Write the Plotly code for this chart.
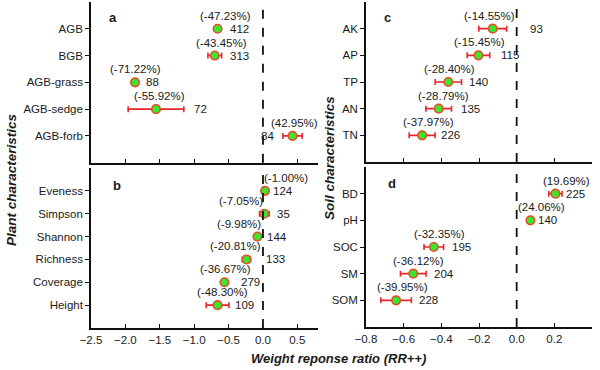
import plotly.graph_objects as go

# ---------------- data ----------------
a_cats = ["AGB", "BGB", "AGB-grass", "AGB-sedge", "AGB-forb"]
a_vals = [-0.66, -0.70, -1.86, -1.555, 0.43]
a_errs = [0.015, 0.10, 0.015, 0.405, 0.14]
a_pct = ["(-47.23%)", "(-43.45%)", "(-71.22%)", "(-55.92%)", "(42.95%)"]
a_n = [412, 313, 88, 72, 84]

b_cats = ["Eveness", "Simpson", "Shannon", "Richness", "Coverage", "Height"]
b_vals = [0.03, 0.02, -0.08, -0.24, -0.56, -0.66]
b_errs = [0.02, 0.07, 0.02, 0.06, 0.02, 0.165]
b_pct = ["(-1.00%)", "(-7.05%)", "(-9.98%)", "(-20.81%)", "(-36.67%)", "(-48.30%)"]
b_n = [124, 35, 144, 133, 279, 109]

c_cats = ["AK", "AP", "TP", "AN", "TN"]
c_vals = [-0.127, -0.203, -0.363, -0.414, -0.502]
c_errs = [0.074, 0.06, 0.07, 0.068, 0.069]
c_pct = ["(-14.55%)", "(-15.45%)", "(-28.40%)", "(-28.79%)", "(-37.97%)"]
c_n = [93, 115, 140, 135, 226]

d_cats = ["BD", "pH", "SOC", "SM", "SOM"]
d_vals = [0.206, 0.073, -0.44, -0.549, -0.64]
d_errs = [0.035, 0.01, 0.052, 0.068, 0.081]
d_pct = ["(19.69%)", "(24.06%)", "(-32.35%)", "(-36.12%)", "(-39.95%)"]
d_n = [225, 140, 195, 204, 228]

# ---------------- styles / label offsets (px) ----------------
a_pct_dx = [8, 7, 0, 3, 2]
b_pct_dx = [21, -23, -18, -11, 1, 5]
c_pct_dx = [-3, 1, 1, 5, 6]
d_pct_dx = [11, 11, 6, 5, 6]
a_n_dx = [9, 6, 8, 8, -7]          # negative => placed on the left side
b_n_dx = [5, 6, 6, 13, 13, 4]
c_n_dx = [21, 9, 6, 7, 4]
d_n_dx = [2, 4, 6, 6, 6]

W, H = 600, 370
FONT = "Liberation Sans, Arial, sans-serif"
TXT = "#1a1a1a"
GREEN = "#3de62e"
EDGE = "#e0502a"
RED = "#e8262a"


def fy(py):
    return 1 - py / H


panels = [
    dict(cats=a_cats, vals=a_vals, errs=a_errs, pct=a_pct, n=a_n, pdx=a_pct_dx, ndx=a_n_dx,
         xd=[91 / W, 318 / W], yd=[fy(162.7), fy(2)], xr=[-2.5, 0.8], dt=0.5, labels=False,
         letter="a", lpos=(113, 18)),
    dict(cats=b_cats, vals=b_vals, errs=b_errs, pct=b_pct, n=b_n, pdx=b_pct_dx, ndx=b_n_dx,
         xd=[91 / W, 318 / W], yd=[fy(328), fy(168)], xr=[-2.5, 0.8], dt=0.5, labels=True,
         letter="b", lpos=(117, 185)),
    dict(cats=c_cats, vals=c_vals, errs=c_errs, pct=c_pct, n=c_n, pdx=c_pct_dx, ndx=c_n_dx,
         xd=[366 / W, 592 / W], yd=[fy(162), fy(2)], xr=[-0.8, 0.4], dt=0.2, labels=False,
         letter="c", lpos=(388, 18)),
    dict(cats=d_cats, vals=d_vals, errs=d_errs, pct=d_pct, n=d_n, pdx=d_pct_dx, ndx=d_n_dx,
         xd=[366 / W, 592 / W], yd=[fy(327), fy(167)], xr=[-0.8, 0.4], dt=0.2, labels=True,
         letter="d", lpos=(392, 183)),
]

fig = go.Figure()
annotations = []
shapes = []
layout_axes = {}

for i, p in enumerate(panels, start=1):
    xa = "x" if i == 1 else f"x{i}"
    ya = "y" if i == 1 else f"y{i}"
    fig.add_trace(go.Scatter(
        x=p["vals"], y=p["cats"], mode="markers", xaxis=xa, yaxis=ya,
        marker=dict(size=8.5, color=GREEN, line=dict(color=EDGE, width=1.6)),
        error_x=dict(type="data", array=p["errs"], color=RED, thickness=1.6, width=3),
        showlegend=False, hoverinfo="skip",
    ))
    n = len(p["cats"])
    layout_axes["xaxis" if i == 1 else f"xaxis{i}"] = dict(
        domain=p["xd"], anchor=ya, range=p["xr"], dtick=p["dt"], tick0=0,
        ticks="inside", ticklen=4, tickwidth=1.2, tickcolor="#111",
        showline=True, linewidth=1.6, linecolor="#111", showgrid=False, zeroline=False,
        showticklabels=p["labels"], tickformat=".1f", automargin=False,
        tickfont=dict(family=FONT, size=11.5, color=TXT),
    )
    layout_axes["yaxis" if i == 1 else f"yaxis{i}"] = dict(
        domain=p["yd"], anchor=xa, type="category", categoryorder="array",
        categoryarray=p["cats"], range=[n, -1], automargin=False,
        ticks="outside", ticklen=4, tickwidth=1.2, tickcolor="#111",
        showline=True, linewidth=1.6, linecolor="#111", showgrid=False, zeroline=False,
        tickfont=dict(family=FONT, size=11.5, color=TXT),
    )
    shapes.append(dict(type="line", xref=xa, yref=f"{ya} domain", x0=0, x1=0, y0=0, y1=1,
                       line=dict(color="#111", width=1.8, dash="dash")))
    for c, v, e, t, cnt, pdx, ndx in zip(p["cats"], p["vals"], p["errs"], p["pct"], p["n"],
                                        p["pdx"], p["ndx"]):
        annotations.append(dict(x=v, y=c, xref=xa, yref=ya, text=t, showarrow=False,
                                xanchor="center", yanchor="middle", xshift=pdx, yshift=13,
                                font=dict(family=FONT, size=11.5, color=TXT)))
        if ndx >= 0:
            annotations.append(dict(x=v + e, y=c, xref=xa, yref=ya, text=str(cnt),
                                    showarrow=False, xanchor="left", yanchor="middle",
                                    xshift=ndx, font=dict(family=FONT, size=11.5, color=TXT)))
        else:
            annotations.append(dict(x=v - e, y=c, xref=xa, yref=ya, text=str(cnt),
                                    showarrow=False, xanchor="right", yanchor="middle",
                                    xshift=ndx, font=dict(family=FONT, size=11.5, color=TXT)))
    annotations.append(dict(x=p["lpos"][0] / W, y=fy(p["lpos"][1]), xref="paper", yref="paper",
                            text=f"<b>{p['letter']}</b>", showarrow=False,
                            xanchor="center", yanchor="middle",
                            font=dict(family=FONT, size=13, color=TXT)))

# axis titles
annotations.append(dict(x=11 / W, y=fy(180), xref="paper", yref="paper",
                        text="<b><i>Plant characteristics</i></b>", textangle=-90,
                        showarrow=False, xanchor="center", yanchor="middle",
                        font=dict(family=FONT, size=13.5, color=TXT)))
annotations.append(dict(x=329 / W, y=fy(158), xref="paper", yref="paper",
                        text="<b><i>Soil characteristics</i></b>", textangle=-90,
                        showarrow=False, xanchor="center", yanchor="middle",
                        font=dict(family=FONT, size=13.5, color=TXT)))
annotations.append(dict(x=339 / W, y=fy(358), xref="paper", yref="paper",
                        text="<b><i>Weight reponse ratio (RR++)</i></b>",
                        showarrow=False, xanchor="center", yanchor="middle",
                        font=dict(family=FONT, size=13, color=TXT)))

fig.update_layout(
    width=W, height=H, margin=dict(l=0, r=0, t=0, b=0, pad=0),
    paper_bgcolor="white", plot_bgcolor="white",
    annotations=annotations, shapes=shapes, **layout_axes,
)

fig.write_html("out.html", config={"displayModeBar": False},
               post_script="document.body.style.margin='0';")
